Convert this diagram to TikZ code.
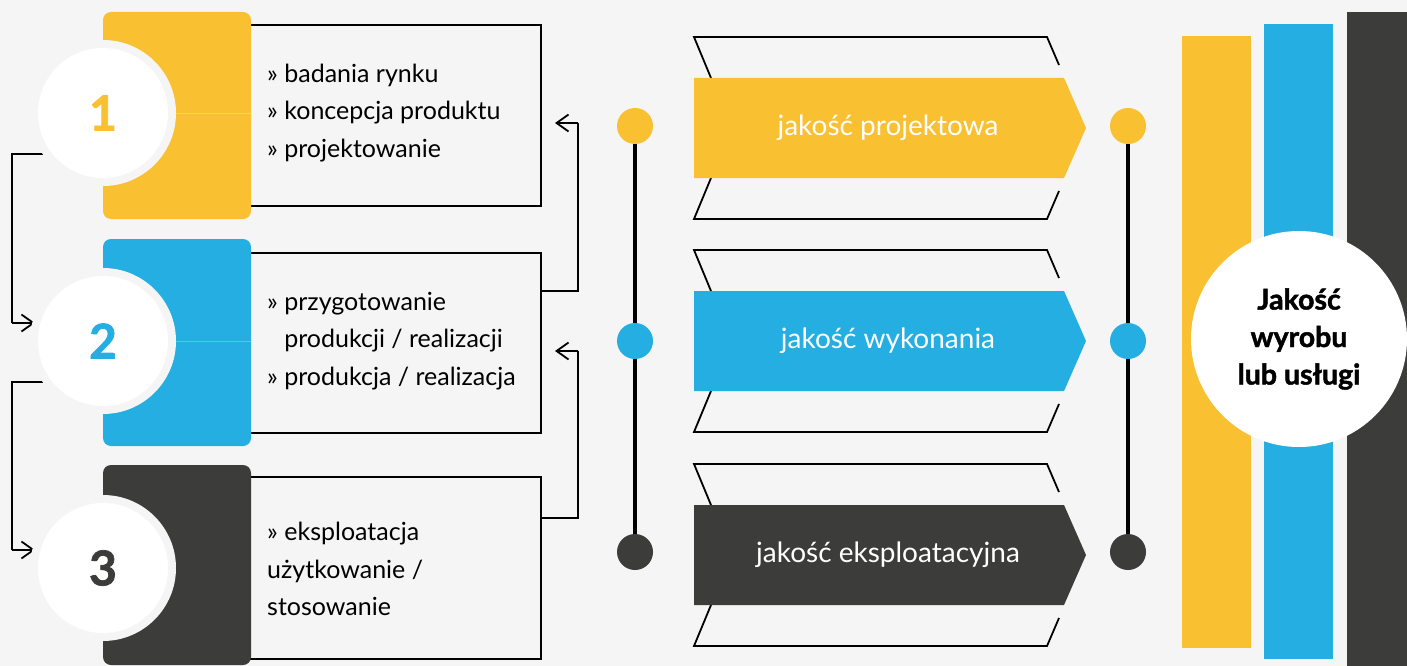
\documentclass[tikz,border=0pt]{standalone}
\usepackage{fontspec}
\setmainfont{Lato}
\usetikzlibrary{arrows.meta,calc}
\definecolor{bgc}{HTML}{F5F5F5}
\definecolor{yel}{HTML}{F9C032}
\definecolor{blu}{HTML}{25AEE2}
\definecolor{drk}{HTML}{3C3C3B}
\tikzset{
  colbox/.style={rounded corners=8pt, inner sep=0pt, outer sep=0pt, minimum width=148pt, anchor=north west},
  txtbox/.style={draw=black, line width=1.8pt, inner sep=0pt, outer sep=0pt, minimum width=296pt, anchor=north west},
  ring/.style={circle, fill=bgc, inner sep=0pt, minimum size=146pt},
  numc/.style={circle, fill=white, inner sep=0pt, minimum size=130pt, font=\bfseries\addfontfeatures{FakeBold=1.6}\fontsize{48}{48}\selectfont},
  seam/.style={line width=0.6pt},
  txt/.style={font=\fontsize{25}{37.5}\selectfont, align=left, inner sep=0pt, anchor=west, text=black},
  conn/.style={draw=black, line width=1.8pt},
  arr/.style={conn, -{Straight Barb[length=12pt, width=17pt]}},
  outl/.style={draw=black, line width=1.8pt},
  chtxt/.style={font=\fontsize{28}{32}\selectfont, text=white, inner sep=0pt},
  vline/.style={draw=black, line width=3.5pt},
  dot/.style={circle, inner sep=0pt, minimum size=36pt},
  bigc/.style={circle, fill=white, inner sep=0pt, minimum size=216pt, align=center, font=\bfseries\addfontfeatures{FakeBold=1.6}\fontsize{28.5}{37.5}\selectfont}
}
\begin{document}
\begin{tikzpicture}[x=1pt,y=-1pt]
\useasboundingbox (0,0) rectangle (1407,666);
\fill[bgc] (0,0) rectangle (1407,666);

% left connectors (behind the circles)
\coordinate (l1a) at (12,154);
\coordinate (l1b) at (12,323);
\coordinate (l1c) at (35,323);
\coordinate (l2a) at (12,382);
\coordinate (l2b) at (12,550);
\coordinate (l2c) at (35,550);
\coordinate (n1c) at (103,113);
\coordinate (n2c) at (103,341);
\coordinate (n3c) at (103,568);
\draw[conn] (n1c |- l1a) -- (l1a) -- (l1b);
\draw[arr] (l1b) -- (l1c);
\draw[conn] (n2c |- l2a) -- (l2a) -- (l2b);
\draw[arr] (l2b) -- (l2c);

% text boxes
\node[txtbox, minimum height=181pt] (t1) at (245,25) {};
\node[txtbox, minimum height=180pt] (t2) at (245,253) {};
\node[txtbox, minimum height=182pt] (t3) at (245,477) {};

% coloured blocks
\node[colbox, fill=yel, minimum height=207pt] (b1) at (103,12) {};
\node[colbox, fill=blu, minimum height=207pt] (b2) at (103,239) {};
\node[colbox, fill=drk, minimum height=200pt] (b3) at (103,465) {};

% rings and numbered circles
\node[ring] (r1) at (n1c) {};
\node[ring] (r2) at (n2c) {};
\node[ring] (r3) at (n3c) {};
\node[numc, text=yel] (n1) at (n1c) {1};
\node[numc, text=blu] (n2) at (n2c) {2};
\node[numc, text=drk] (n3) at (n3c) {3};
\draw[seam, yel!75!white] (r1.east) -- (r1.east -| b1.east);
\draw[seam, blu!75!white] (r2.east) -- (r2.east -| b2.east);

% box texts
\node[txt] (x1) at (267,113) {» badania rynku\\» koncepcja produktu\\» projektowanie};
\node[txt] (x2) at (267,341) {» przygotowanie\\\phantom{»\ }produkcji / realizacji\\» produkcja / realizacja};
\node[txt] (x3) at (267,569) {» eksploatacja\\użytkowanie /\\stosowanie};

% right connectors
\coordinate (rc1) at (578,291);
\coordinate (rc1b) at (578,123);
\coordinate (rc1c) at (555,123);
\coordinate (rc2) at (578,518);
\coordinate (rc2b) at (578,351);
\coordinate (rc2c) at (555,351);
\draw[conn] (t2.east |- rc1) -- (rc1) -- (rc1b);
\draw[arr] (rc1b) -- (rc1c);
\draw[conn] (t3.east |- rc2) -- (rc2) -- (rc2b);
\draw[arr] (rc2b) -- (rc2c);

% chevrons
\foreach \c/\col/\t/\nm in {128/yel/jakość projektowa/1, 341/blu/jakość wykonania/2, 555/drk/jakość eksploatacyjna/3}{
  \draw[outl] (711,\c-50) -- (694,\c-91) -- (1047,\c-91) -- (1059,\c-63);
  \draw[outl] (711,\c+50) -- (694,\c+91) -- (1047,\c+91) -- (1059,\c+63);
  \fill[\col] (694,\c-50) -- (1064,\c-50) -- (1086,\c) -- (1064,\c+50) -- (694,\c+50) -- cycle;
  \node[chtxt] (ch\nm) at (888,\c) {\t};
}

% dots and vertical lines
\node[dot, fill=yel] (dl1) at (635,126) {};
\node[dot, fill=blu] (dl2) at (635,341) {};
\node[dot, fill=drk] (dl3) at (635,552) {};
\node[dot, fill=yel] (dr1) at (1128,126) {};
\node[dot, fill=blu] (dr2) at (1128,341) {};
\node[dot, fill=drk] (dr3) at (1128,552) {};
\draw[vline] (dl1) -- (dl2);
\draw[vline] (dl2) -- (dl3);
\draw[vline] (dr1) -- (dr2);
\draw[vline] (dr2) -- (dr3);

% bars
\fill[yel] (1182,36) rectangle (1251,648);
\fill[blu] (1264,24) rectangle (1333,659);
\fill[drk] (1347,12) rectangle (1407,666);
\node[bigc] (big) at (1299,339) {Jakość\\wyrobu\\lub usługi};
\end{tikzpicture}
\end{document}
